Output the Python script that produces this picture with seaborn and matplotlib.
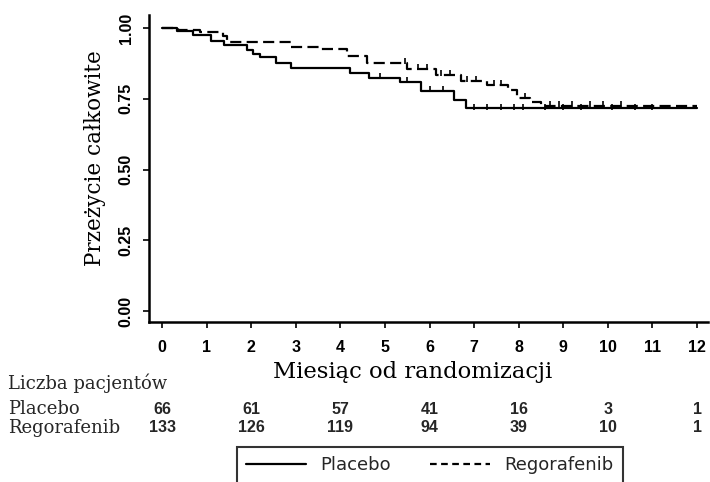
import matplotlib
matplotlib.use("Agg")
import matplotlib.pyplot as plt
import matplotlib.transforms as mtransforms
from matplotlib.lines import Line2D
from matplotlib import font_manager
import seaborn as sns
import pandas as pd
import numpy as np

# ---------------- data ----------------
placebo_t = [0, 0.33, 0.69, 1.10, 1.38, 1.91, 2.03, 2.20, 2.56, 2.90, 4.21, 4.64, 5.33, 5.80, 6.55, 6.82, 12.0]
placebo_s = [1.00, 0.989, 0.974, 0.953, 0.940, 0.922, 0.908, 0.896, 0.878, 0.860, 0.842, 0.824, 0.810, 0.777, 0.745, 0.716, 0.716]

rego_t = [0, 0.35, 0.85, 1.37, 1.46, 2.90, 3.55, 4.15, 4.60, 5.50, 6.15, 6.70, 7.30, 7.75, 7.97, 8.25, 8.50, 12.0]
rego_s = [1.00, 0.994, 0.985, 0.970, 0.950, 0.934, 0.925, 0.902, 0.876, 0.855, 0.835, 0.813, 0.799, 0.780, 0.752, 0.740, 0.724, 0.724]

placebo_cens = [4.9, 5.5, 6.0, 6.3, 7.0, 7.3, 7.6, 7.9, 8.1, 8.6, 9.0, 9.4, 10.1, 10.6, 11.0]
rego_cens = [5.45, 5.75, 5.95, 6.25, 6.45, 6.85, 7.05, 7.45, 7.6, 8.15, 8.7, 8.9, 9.2, 9.6, 9.9, 10.3]

x_ticks = list(range(0, 13))
y_ticks = [0.00, 0.25, 0.50, 0.75, 1.00]
y_ticklabels = ["0.00", "0.25", "0.50", "0.75", "1.00"]

risk_months = [0, 2, 4, 6, 8, 10, 12]
risk_placebo = [66, 61, 57, 41, 16, 3, 1]
risk_rego = [133, 126, 119, 94, 39, 10, 1]

arm_names = ["Placebo", "Regorafenib"]
ylabel = "Przeżycie całkowite"
xlabel = "Miesiąc od randomizacji"
risk_title = "Liczba pacjentów"

# ---------------- fonts ----------------
names = {f.name for f in font_manager.fontManager.ttflist}
SANS = "Liberation Sans Narrow" if "Liberation Sans Narrow" in names else "Liberation Sans"
SERIF = "DejaVu Serif"

sns.set_theme(style="white")
plt.rcParams["font.family"] = [SANS, "DejaVu Sans"]

W, H = 710, 482
fig = plt.figure(figsize=(7.10, 4.82), dpi=100)
L, R, T, B = 149, 708, 15, 322
ax = fig.add_axes([L / W, 1 - B / H, (R - L) / W, (B - T) / H])

df = pd.concat([
    pd.DataFrame({"month": placebo_t, "surv": placebo_s, "arm": arm_names[0]}),
    pd.DataFrame({"month": rego_t, "surv": rego_s, "arm": arm_names[1]}),
])

sns.lineplot(data=df, x="month", y="surv", hue="arm", style="arm",
             palette={arm_names[0]: "black", arm_names[1]: "black"},
             dashes={arm_names[0]: "", arm_names[1]: (5, 2.4)},
             drawstyle="steps-post", estimator=None, sort=False,
             linewidth=1.6, legend=False, ax=ax)

# censor marks placed on the step curves
def step_val(t, ts, ss):
    idx = np.searchsorted(ts, t, side="right") - 1
    return ss[idx]
cp = pd.DataFrame({"month": placebo_cens,
                   "surv": [step_val(t, placebo_t, placebo_s) + 0.006 for t in placebo_cens]})
cr = pd.DataFrame({"month": rego_cens,
                   "surv": [step_val(t, rego_t, rego_s) + 0.006 for t in rego_cens]})
sns.scatterplot(data=cp, x="month", y="surv", marker="|", s=18, color="black", linewidth=1.2, ax=ax)
sns.scatterplot(data=cr, x="month", y="surv", marker="|", s=18, color="black", linewidth=1.2, ax=ax)

# axis limits (matching pixel geometry)
x0, x12 = 162, 697
ppm = (x12 - x0) / 12
ax.set_xlim((L - x0) / ppm, (R - x0) / ppm)
y1, y0 = 28, 311
ppu = y0 - y1
ax.set_ylim((y0 - B) / ppu, (y0 - T) / ppu)

ax.set_xticks(x_ticks)
ax.set_xticklabels([str(v) for v in x_ticks], fontsize=11.5, fontweight="bold", family=[SANS, "DejaVu Sans"])
ax.set_yticks(y_ticks)
ax.set_yticklabels(y_ticklabels, fontsize=11.5, fontweight="bold", rotation=90, va="center",
                   family=[SANS, "DejaVu Sans"])
ax.tick_params(axis="x", direction="out", length=4, width=1.2, pad=9, colors="black", bottom=True)
ax.tick_params(axis="y", direction="out", length=4, width=1.2, pad=7, colors="black", left=True)

for side in ["top", "right"]:
    ax.spines[side].set_visible(False)
for side in ["left", "bottom"]:
    ax.spines[side].set_color("black")
    ax.spines[side].set_linewidth(1.8)
ax.grid(False)

ax.set_ylabel(ylabel, family=SERIF, fontsize=15.5, color="black", va="center")
ax.yaxis.set_label_coords((95 - L) / (R - L), (B - 158) / (B - T))
ax.set_xlabel(xlabel, family=SERIF, fontsize=16.3, color="black", va="center")
ax.xaxis.set_label_coords((413 - L) / (R - L), (B - 372) / (B - T))

# number at risk table
trans = mtransforms.blended_transform_factory(ax.transData, fig.transFigure)
fig.text(8 / W, 1 - 383 / H, risk_title, family=SERIF, fontsize=13, va="center", ha="left")
fig.text(8 / W, 1 - 409 / H, arm_names[0], family=SERIF, fontsize=13, va="center", ha="left")
fig.text(8 / W, 1 - 428 / H, arm_names[1], family=SERIF, fontsize=13, va="center", ha="left")
for m, n in zip(risk_months, risk_placebo):
    ax.text(m, 1 - 409 / H, str(n), transform=trans, ha="center", va="center",
            fontsize=11.5, fontweight="bold", family=[SANS, "DejaVu Sans"], clip_on=False)
for m, n in zip(risk_months, risk_rego):
    ax.text(m, 1 - 428 / H, str(n), transform=trans, ha="center", va="center",
            fontsize=11.5, fontweight="bold", family=[SANS, "DejaVu Sans"], clip_on=False)

# legend (its lower part falls outside the image, as in the reference)
blank = Line2D([], [], color="none")
handles = [Line2D([], [], color="black", lw=1.6, ls="-"), blank,
           Line2D([], [], color="black", lw=1.6, dashes=(3, 2)), blank]
labels = [arm_names[0], " ", arm_names[1], " "]
leg = fig.legend(handles, labels, loc="upper left",
                 bbox_to_anchor=(237 / W, 1 - 447 / H), ncol=2, frameon=True, fancybox=False,
                 handlelength=3.3, handletextpad=0.8, columnspacing=2.2, borderpad=0.5,
                 labelspacing=0.3, borderaxespad=0,
                 prop={"family": "DejaVu Sans", "size": 13})
leg.get_frame().set_edgecolor("black")
leg.get_frame().set_linewidth(1.5)

fig.savefig("out.png", dpi=100, facecolor="white")
